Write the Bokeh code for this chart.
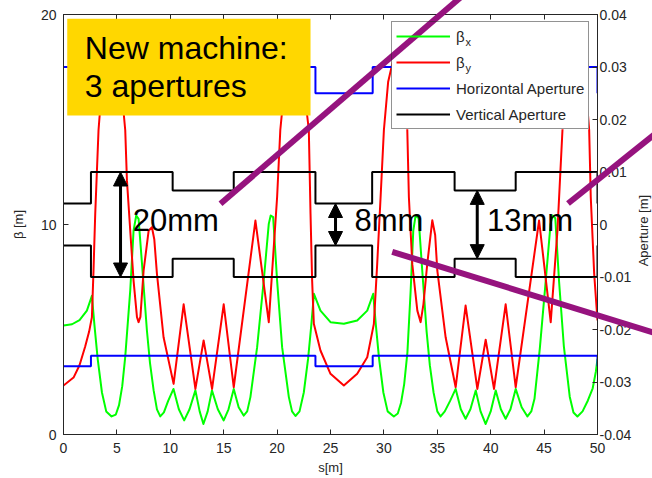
import math
from bokeh.plotting import figure
from bokeh.models import (Range1d, LinearAxis, FixedTicker, Legend, LegendItem,
                          BoxAnnotation, Label, Arrow, NormalHead)
from bokeh.core.properties import value
from bokeh.embed import file_html
from bokeh.resources import INLINE

# ---------------- data ----------------
s_beta_x = [0, 0.8, 1.5, 2.19, 2.66, 2.9, 3.2, 3.6, 4.0, 4.5, 4.9, 5.2, 5.5, 5.78,
            6.25, 6.56, 6.81, 7.03, 7.35, 7.81, 8.1, 8.44, 8.75, 9.06, 9.4, 9.8,
            10.3, 10.8, 11.3, 11.8, 12.35, 12.75, 13.1, 13.5, 13.9, 14.45, 15.0,
            15.45, 15.94, 16.4, 16.87, 17.2, 17.5, 18.13, 18.75, 19.22, 19.4, 19.63,
            20.0, 20.47, 21.1, 21.4, 21.72, 22.1, 22.5, 22.9, 23.2, 23.45, 24.06,
            25.0, 26.25, 27.5, 28.44, 29.0, 29.25, 29.55, 29.95, 30.35, 30.93, 31.3,
            31.6, 31.9, 32.2, 32.5, 32.75, 32.97, 33.25, 33.55, 34.0, 34.3, 34.65,
            35.0, 35.31, 35.7, 36.2, 36.72, 37.2, 37.65, 38.1, 38.6, 39.05, 39.53,
            40.0, 40.47, 40.95, 41.4, 41.85, 42.34, 42.9, 43.44, 43.8, 44.1, 44.6,
            45.15, 45.6, 45.78, 46.05, 46.4, 46.85, 47.4, 47.75, 48.12, 48.6, 49.1,
            49.55, 49.85, 50.0]
beta_x = [5.19, 5.25, 5.45, 5.9, 6.6, 5.2, 3.6, 2.0, 1.1, 0.86, 0.95, 1.4, 2.3, 3.7,
          6.86, 9.71, 10.43, 10.27, 8.13, 4.95, 3.4, 2.1, 1.2, 0.86, 1.05, 1.6,
          2.17, 1.2, 0.67, 1.2, 2.1, 1.1, 0.5, 1.1, 2.1, 1.2, 0.67,
          1.2, 2.17, 1.3, 0.9, 1.1, 1.78, 4.16, 7.33, 10.03, 10.43, 10.35,
          7.33, 4.16, 1.78, 1.1, 0.88, 1.1, 2.0, 3.6, 5.2, 6.7, 5.9,
          5.35, 5.27, 5.43, 5.9, 6.7, 5.2, 3.6, 2.0, 1.1, 0.86, 1.0,
          1.5, 2.4, 3.9, 6.8, 9.7, 10.43, 10.3, 8.1, 4.9, 3.3, 2.0,
          1.1, 0.86, 1.1, 1.6, 2.17, 1.2, 0.75, 1.2, 2.1, 1.1, 0.5,
          1.1, 2.1, 1.2, 0.75, 1.2, 2.17, 1.3, 0.86, 1.1, 1.7, 4.1,
          7.3, 10.0, 10.43, 10.3, 7.3, 4.2, 1.8, 1.05, 0.86, 1.1, 1.62,
          2.2, 3.0, 3.6]

s_beta_y = [0, 0.94, 1.5, 2.03, 2.4, 2.66, 2.81, 2.97, 3.28, 3.6, 4.0, 4.5, 5.0, 5.4,
            5.78, 5.94, 6.25, 6.56, 6.88, 7.03, 7.2, 7.5, 7.97, 8.28, 8.5, 8.75,
            9.37, 10.31, 11.25, 12.35, 13.12, 13.91, 15.0, 15.94, 17.97, 19.22,
            20.0, 20.3, 20.7, 21.1, 21.6, 22.1, 22.5, 22.97, 23.13, 23.28, 23.44,
            24.06, 25.0, 26.25, 27.5, 28.44, 29.06, 29.37, 29.69, 30.0, 30.4, 30.9,
            31.3, 31.7, 32.0, 32.19, 32.34, 32.66, 33.13, 33.44, 33.7, 34.06, 34.53,
            34.8, 35.0, 35.78, 36.72, 37.65, 38.75, 39.53, 40.31, 41.4, 42.34,
            44.53, 45.62, 46.25, 46.72, 47.1, 47.5, 48.0, 48.5, 48.9, 49.22, 49.37,
            49.69, 50.0]
beta_y = [2.33, 2.71, 3.3, 4.19, 4.9, 5.59, 7.81, 10.5, 14.5, 16.6, 17.7, 18.1, 17.7, 16.6,
          14.5, 12.1, 9.7, 7.33, 5.59, 5.35, 5.6, 7.8, 9.7, 9.87, 9.3, 7.65,
          4.63, 2.41, 6.2, 2.17, 4.48, 2.17, 6.2, 2.25, 10.19, 5.35,
          11.3, 14.5, 16.6, 17.7, 18.1, 17.7, 16.6, 14.5, 10.5, 7.33, 5.27,
          4.0, 2.89, 2.33, 2.89, 3.68, 5.27, 8.1, 11.3, 14.5, 16.8, 17.9,
          18.2, 17.9, 16.5, 14.5, 11.3, 8.1, 5.9, 5.35, 6.2, 8.13, 10.2,
          9.5, 7.81, 4.63, 2.25, 6.14, 2.17, 4.51, 2.17, 6.2, 2.25,
          10.19, 5.35, 9.71, 14.5, 16.6, 17.7, 18.1, 17.7, 16.6, 14.5, 11.3,
          7.65, 5.43]

s_vert_ap = [0, 2.57, 10.22, 15.94, 23.59, 28.9, 36.62, 42.34, 50]
vert_ap_top = [0.004, 0.01, 0.0065, 0.01, 0.004, 0.01, 0.0065, 0.01, 0.004]
vert_ap_bottom = [-0.004, -0.01, -0.0065, -0.01, -0.004, -0.01, -0.0065, -0.01, -0.004]

s_horiz_ap = [0, 2.57, 23.59, 28.95, 50]
horiz_ap_top = [0.03, 0.03, 0.025, 0.03, 0.025]
horiz_ap_bottom = [-0.027, -0.025, -0.027, -0.025, -0.027]

s_ticks = [0, 5, 10, 15, 20, 25, 30, 35, 40, 45, 50]
beta_ticks = [0, 10, 20]
aperture_ticks = [-0.04, -0.03, -0.02, -0.01, 0.0, 0.01, 0.02, 0.03, 0.04]
aperture_tick_labels = ["-0.04", "-0.03", "-0.02", "-0.01", "0", "0.01", "0.02", "0.03", "0.04"]

gap_labels = ["20mm", "8mm", "13mm"]
gap_half_width = [0.01, 0.004, 0.0065]

# purple pointer strokes of the slide, (s0, beta0) -> (s1, beta1) in the chart's data space
pointer_x0 = [14.70, 47.24, 30.78]
pointer_y0 = [10.99, 11.0, 8.70]
pointer_x1 = [37.92, 56.84, 56.84]
pointer_y1 = [21.14, 14.90, 4.60]

FONT = "Liberation Sans"
TXT = "#262626"
PURPLE = "#96137E"

# ---------------- figure ----------------
p = figure(width=652, height=478, x_range=Range1d(0, 50), y_range=Range1d(0, 20),
           output_backend="svg", toolbar_location=None,
           min_border_left=63, min_border_right=55, min_border_top=14, min_border_bottom=44,
           background_fill_color="white", border_fill_color="white")
p.extra_y_ranges = {"aperture": Range1d(-0.04, 0.04)}
p.grid.visible = False
p.outline_line_color = TXT
p.outline_line_width = 1


def style_axis(ax, size="14px"):
    ax.major_tick_in = 5
    ax.major_tick_out = 0
    ax.minor_tick_line_color = None
    ax.axis_line_color = TXT
    ax.major_tick_line_color = TXT
    ax.major_label_text_font = FONT
    ax.major_label_text_font_size = size
    ax.major_label_text_color = TXT
    ax.axis_label_text_font = FONT
    ax.axis_label_text_font_size = "13px"
    ax.axis_label_text_font_style = "normal"
    ax.axis_label_text_color = TXT


xb = p.below[0]
xb.ticker = FixedTicker(ticks=s_ticks)
style_axis(xb)
xb.major_label_standoff = 8
xb.axis_label = "s[m]"
xb.axis_label_standoff = 4

yl = p.left[0]
yl.ticker = FixedTicker(ticks=beta_ticks)
style_axis(yl)
yl.major_label_standoff = 7
yl.axis_label = "β [m]"
yl.axis_label_standoff = 12

yr = LinearAxis(y_range_name="aperture", ticker=FixedTicker(ticks=aperture_ticks),
                major_label_overrides=dict(zip(aperture_ticks, aperture_tick_labels)))
style_axis(yr)
yr.major_label_standoff = 2
p.add_layout(yr, "right")

# top box edge with inward ticks only (no labels drawn)
xt = LinearAxis(ticker=FixedTicker(ticks=s_ticks))
style_axis(xt, size="0px")
xt.major_label_text_alpha = 0
xt.major_label_text_color = None
xt.major_label_standoff = 0
p.add_layout(xt, "above")

# ---------------- curves ----------------
gx = p.line(s_beta_x, beta_x, line_color="#00FF00", line_width=2, line_join="round")
ry = p.line(s_beta_y, beta_y, line_color="#FF0000", line_width=2, line_join="round")
bh = p.step(s_horiz_ap, horiz_ap_top, mode="after", y_range_name="aperture",
            line_color="#0000FF", line_width=2)
p.step(s_horiz_ap, horiz_ap_bottom, mode="after", y_range_name="aperture",
       line_color="#0000FF", line_width=2)
kv = p.step(s_vert_ap, vert_ap_top, mode="after", y_range_name="aperture",
            line_color="black", line_width=2)
p.step(s_vert_ap, vert_ap_bottom, mode="after", y_range_name="aperture",
       line_color="black", line_width=2)

# ---------------- legend ----------------
p.add_layout(BoxAnnotation(left=30.72, right=49.2, bottom=14.53, top=19.55,
                           fill_color="white", fill_alpha=1.0, line_alpha=0.0))
for sub, yy in (("x", 18.68), ("y", 17.44)):
    p.add_layout(Label(x=37.64, y=yy, text=sub, text_font=FONT, text_font_size="11px",
                       text_color=TXT, text_baseline="alphabetic"))
legend = Legend(items=[LegendItem(label="β", renderers=[gx]),
                       LegendItem(label="β", renderers=[ry]),
                       LegendItem(label="Horizontal Aperture", renderers=[bh]),
                       LegendItem(label="Vertical Aperture", renderers=[kv])],
                location=(328, 305), padding=4, spacing=6, label_height=20,
                glyph_height=20, glyph_width=54, label_standoff=6, margin=0,
                label_text_font=FONT, label_text_font_size="15px", label_text_color=TXT,
                border_line_color=TXT, border_line_width=1,
                background_fill_color="white", background_fill_alpha=0.0)
p.add_layout(legend)

# ---------------- annotations ----------------
p.add_layout(BoxAnnotation(left=0.35, right=23.13, bottom=15.19, top=19.8,
                           fill_color="#FFD700", fill_alpha=1.0, line_alpha=0.0))
for txt, yy in (("New machine:", 18.41), ("3 apertures", 16.58)):
    p.add_layout(Label(x=2.0, y=yy, text=txt, text_font=FONT, text_font_size="32px",
                       text_color="black", text_baseline="alphabetic"))

for txt, sx, hw, lx in zip(gap_labels, [5.34, 25.47, 38.74], gap_half_width, [6.49, 27.25, 39.66]):
    p.add_layout(Arrow(start=NormalHead(size=14, fill_color="black", line_color="black"),
                       end=NormalHead(size=14, fill_color="black", line_color="black"),
                       x_start=sx, y_start=-hw, x_end=sx, y_end=hw, y_range_name="aperture",
                       line_color="black", line_width=3))
    p.add_layout(Label(x=lx, y=10.19, text=txt, text_font=FONT, text_font_size="31px",
                       text_color="black", text_baseline="alphabetic"))

# pointer strokes drawn on the overlay level so they may run past the axes box
p.segment(x0=pointer_x0, y0=pointer_y0, x1=pointer_x1, y1=pointer_y1,
          line_color=PURPLE, line_width=6, level="overlay")

# right-hand axis title, reading bottom-to-top at the window edge
p.text(x=[54.31], y=[9.71], text=["Aperture [m]"], angle=math.pi / 2,
       text_align=value("center"), text_baseline=value("middle"),
       text_font=value(FONT), text_font_size=value("13px"), text_color=TXT,
       level="overlay")

open("out.html", "w").write(file_html(p, INLINE))
